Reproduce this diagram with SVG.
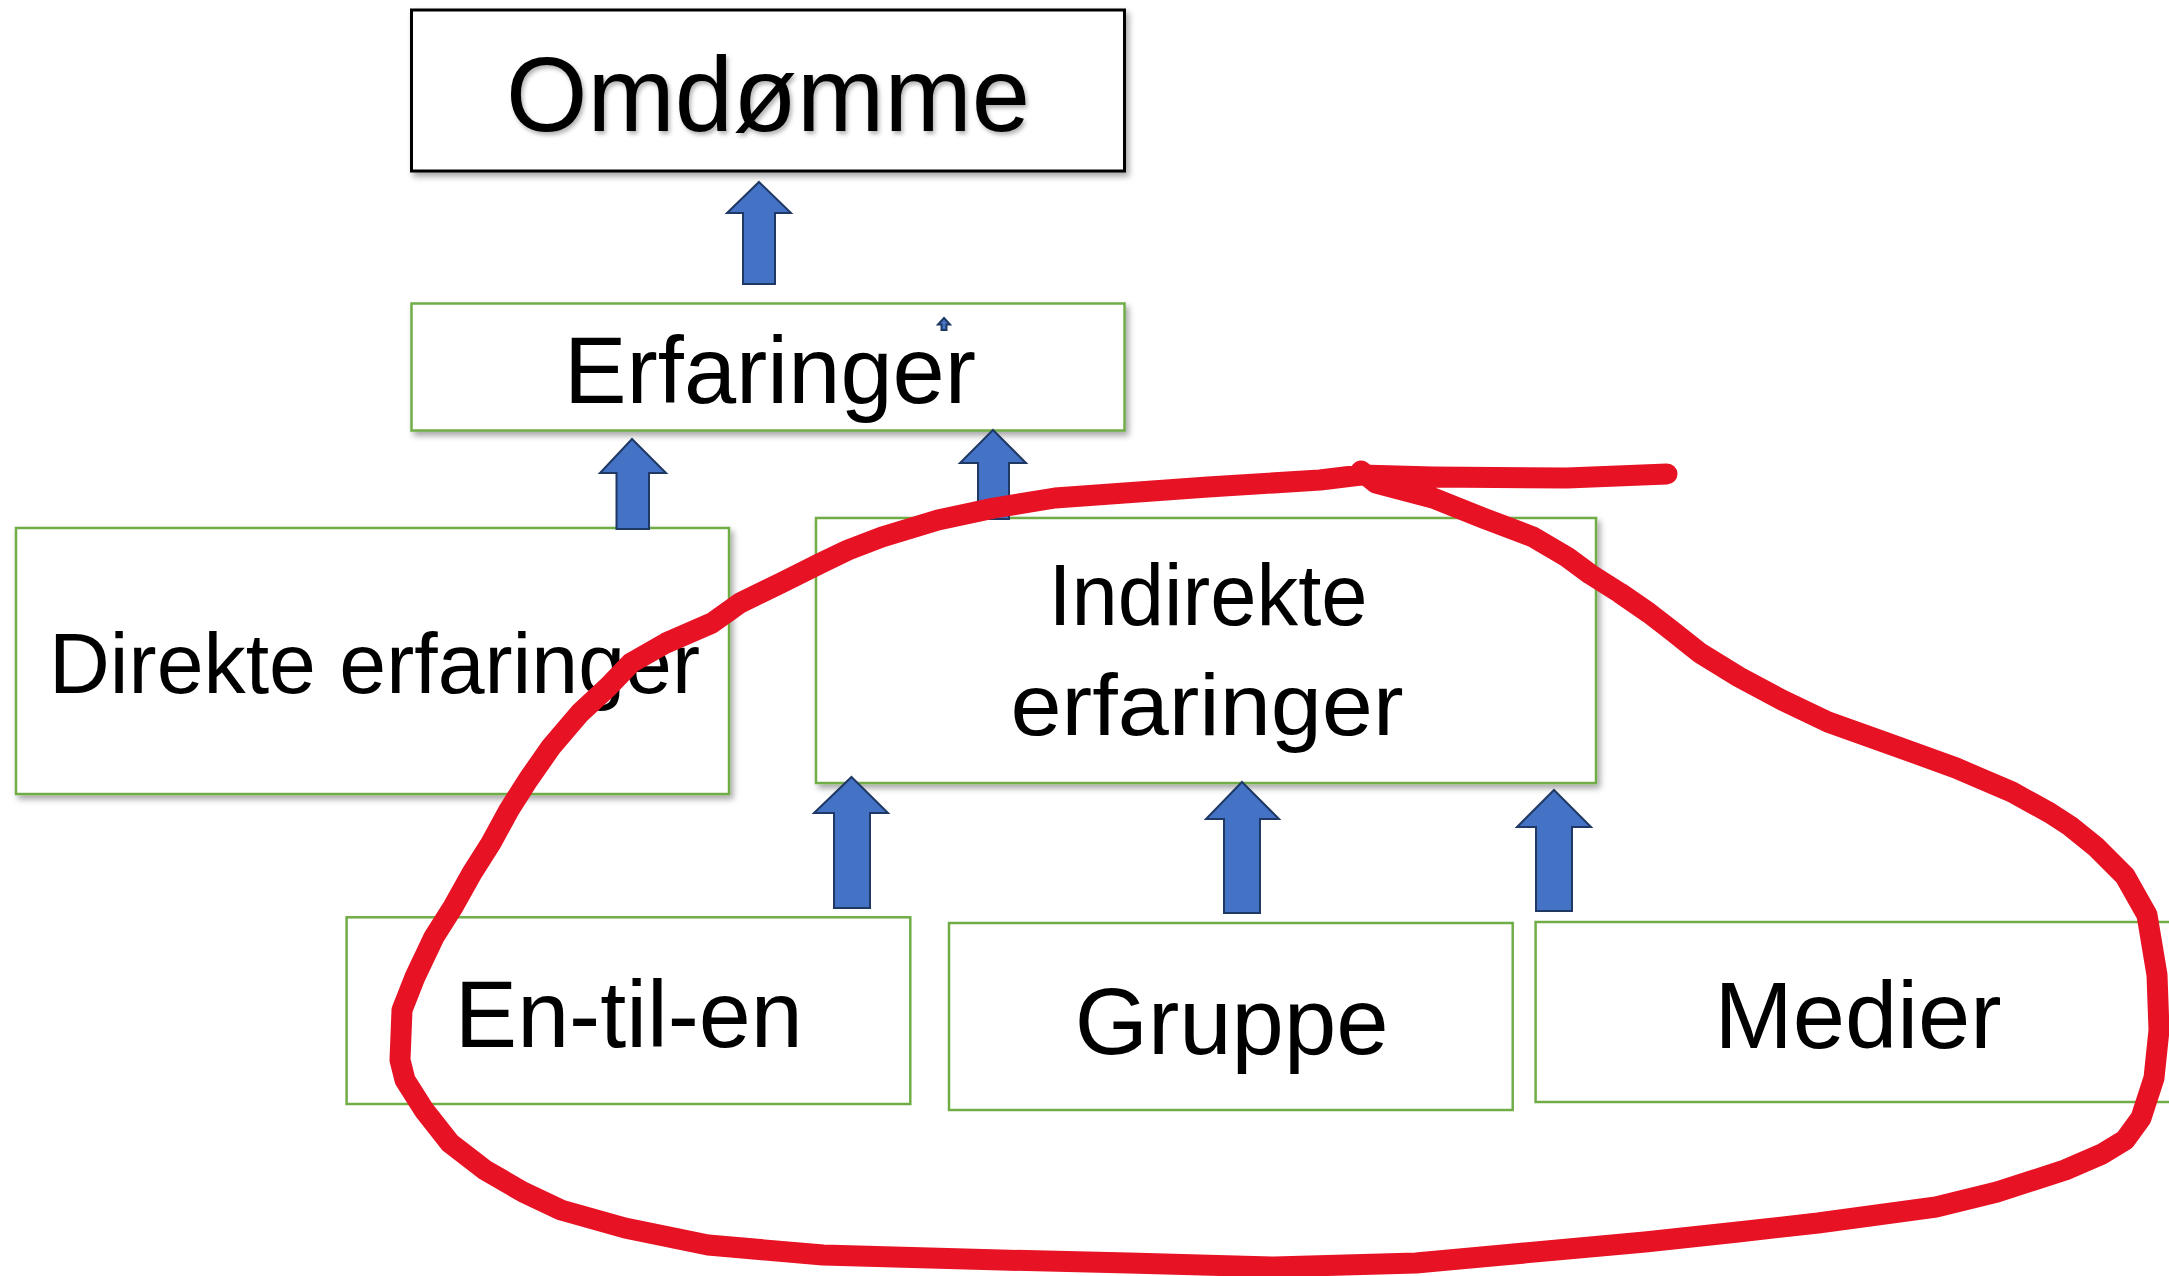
<svg xmlns="http://www.w3.org/2000/svg" width="2169" height="1276" viewBox="0 0 2169 1276">
<defs>
<filter id="sh" x="-5%" y="-5%" width="110%" height="115%">
<feDropShadow dx="3" dy="4" stdDeviation="3" flood-color="#000" flood-opacity="0.35"/>
</filter>
<filter id="tsh" x="-5%" y="-10%" width="110%" height="130%">
<feDropShadow dx="2" dy="3" stdDeviation="2" flood-color="#000" flood-opacity="0.3"/>
</filter>
</defs>
<style>
.box{fill:#fff;stroke:#70AD47;stroke-width:2.5}
.black{fill:#fff;stroke:#000;stroke-width:3}
.lbl{font-family:"Liberation Sans",Arial,sans-serif;fill:#000;text-anchor:middle}
.arrow{fill:#4472C4;stroke:#1F3864;stroke-width:2;stroke-linejoin:miter}
.ink{fill:none;stroke:#E71224;stroke-width:21;stroke-linecap:round;stroke-linejoin:round}
</style>
<rect width="2169" height="1276" fill="#fff"/>

<g id="omdomme">
<rect class="black" x="411.5" y="10" width="713" height="161" filter="url(#sh)"/>
<text class="lbl" x="768" y="131" font-size="106" textLength="524" lengthAdjust="spacingAndGlyphs" filter="url(#tsh)">Omdømme</text>
</g>

<g id="erfaringer">
<rect class="box" x="411.5" y="303.5" width="713" height="127" filter="url(#sh)"/>
<text class="lbl" x="770" y="403" font-size="94" textLength="412" lengthAdjust="spacingAndGlyphs">Erfaringer</text>
<polygon class="arrow" stroke-width="1.2" points="944,318 950,324.5 946.5,324.5 946.5,330 941.5,330 941.5,324.5 938,324.5"/>
</g>

<g id="direkte">
<rect class="box" x="16" y="528" width="713" height="266" filter="url(#sh)"/>
<text class="lbl" x="374.5" y="692.7" font-size="85" textLength="651" lengthAdjust="spacingAndGlyphs">Direkte erfaringer</text>
</g>

<g id="indirekte">
<rect class="box" x="816" y="518" width="780" height="265" filter="url(#sh)"/>
<text class="lbl" x="1208" y="625" font-size="88" textLength="319" lengthAdjust="spacingAndGlyphs">Indirekte</text>
<text class="lbl" x="1207" y="735" font-size="88" textLength="393" lengthAdjust="spacingAndGlyphs">erfaringer</text>
</g>

<g id="en-til-en">
<rect class="box" x="346.6" y="917.3" width="563.7" height="186.7"/>
<text class="lbl" x="628.8" y="1047.3" font-size="94" textLength="348" lengthAdjust="spacingAndGlyphs">En-til-en</text>
</g>

<g id="gruppe">
<rect class="box" x="949" y="923" width="563.7" height="187"/>
<text class="lbl" x="1231.7" y="1054" font-size="94" textLength="314" lengthAdjust="spacingAndGlyphs">Gruppe</text>
</g>

<g id="medier">
<rect class="box" x="1535.6" y="922" width="660" height="180"/>
<text class="lbl" x="1858" y="1048.3" font-size="94" textLength="287" lengthAdjust="spacingAndGlyphs">Medier</text>
</g>

<g id="connectors">
<polygon class="arrow" points="759,182 791,213 775,213 775,284 743,284 743,213 727,213"/>
<polygon class="arrow" points="632,439 666,473 649,473 649,529 616.5,529 616.5,473 600,473"/>
<polygon class="arrow" points="993,430 1026,463 1009,463 1009,519 978,519 978,463 960,463"/>
<polygon class="arrow" points="851.5,777 888,813 870,813 870,908 834,908 834,813 814,813"/>
<polygon class="arrow" points="1242,782 1279,819 1260,819 1260,913 1224,913 1224,819 1206,819"/>
<polygon class="arrow" points="1554,790 1591,827 1572,827 1572,911 1536,911 1536,827 1517,827"/>
</g>

<g id="ink">
<polyline class="ink" points="1361,471 1376,483 1433,498 1483,518 1533,537 1567,557 1590,574 1620,593 1649,613 1671,630 1700,653 1739,677 1782,700 1828,722 1884,742 1956,768 2012,792 2050,813 2070,826 2096,847 2125,876 2147,915 2157,975 2159,1030 2154,1078 2141,1118 2125,1140 2102,1154 2065,1170 1997,1192 1936,1207 1818,1223 1738,1232 1645,1242 1503,1255 1416,1263 1274,1267 1129,1263 1001,1260 823,1255 708,1245 625,1228 561,1210 523,1192 485,1170 450,1143 424,1110 405,1080 400,1060 402,1010 415,977 434,937 453,907 472,873 491,843 509,810 528,780 551,747 580,713 608,687 631,663 666,643 712,623 740,603 781,583 821,563 848,550 882,537 938,520 994,508 1055,498 1208,487 1320,480 1361,475 1433,477 1567,478 1667,474"/>
</g>
</svg>
